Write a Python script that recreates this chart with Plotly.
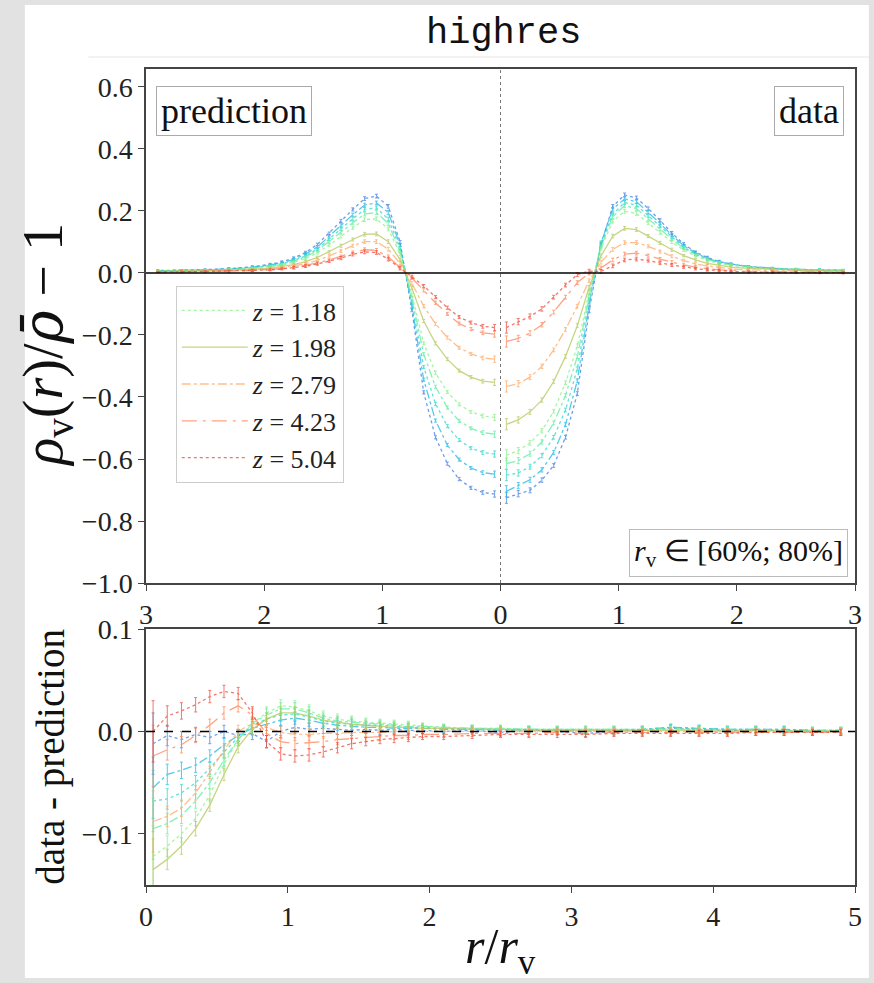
import plotly.graph_objects as go

# ---------------- data ----------------
R_GRID = [0.05, 0.15, 0.25, 0.35, 0.45, 0.55, 0.65, 0.75, 0.85, 0.95,
          1.05, 1.15, 1.25, 1.35, 1.45, 1.55, 1.65, 1.75, 1.85, 1.95,
          2.1, 2.3, 2.5, 2.7, 2.9]
R_RES = R_GRID + [3.1, 3.3, 3.5, 3.7, 3.9, 4.1, 4.3, 4.5, 4.7, 4.9]

Z_LABELS = ["0.05", "0.37", "0.65", "0.92", "1.18", "1.98", "2.79", "4.23", "5.04"]
IN_LEGEND = [False, False, False, False, True, True, True, True, True]
COLORS = ["#3f7fe6", "#1fb8e6", "#2ed8c8", "#5ceea0", "#8cf08a",
          "#b5c85a", "#ffaa66", "#ff8458", "#f04a38"]
DASHES = ["dot", "dashdot", "dot", "dashdot", "dot", "solid", "dashdot", "longdashdot", "dot"]

# prediction profiles rho_v(r)/rho_bar - 1 on R_GRID
PRED = [
    [-0.713, -0.708, -0.693, -0.665, -0.615, -0.530, -0.385, -0.120, 0.100, 0.215,
     0.248, 0.240, 0.205, 0.168, 0.128, 0.092, 0.066, 0.048, 0.036, 0.028,
     0.020, 0.014, 0.011, 0.009, 0.008],
    [-0.649, -0.644, -0.629, -0.602, -0.555, -0.476, -0.344, -0.107, 0.090, 0.195,
     0.226, 0.219, 0.188, 0.154, 0.117, 0.084, 0.061, 0.044, 0.033, 0.026,
     0.019, 0.013, 0.010, 0.008, 0.007],
    [-0.584, -0.579, -0.565, -0.539, -0.494, -0.422, -0.303, -0.094, 0.080, 0.174,
     0.210, 0.205, 0.175, 0.143, 0.108, 0.077, 0.055, 0.041, 0.030, 0.024,
     0.017, 0.012, 0.010, 0.008, 0.007],
    [-0.520, -0.515, -0.501, -0.477, -0.434, -0.367, -0.262, -0.081, 0.069, 0.160,
     0.195, 0.190, 0.162, 0.132, 0.100, 0.072, 0.052, 0.038, 0.028, 0.022,
     0.016, 0.011, 0.009, 0.007, 0.006],
    [-0.466, -0.461, -0.448, -0.424, -0.384, -0.322, -0.227, -0.070, 0.061, 0.142,
     0.175, 0.172, 0.146, 0.118, 0.090, 0.065, 0.047, 0.034, 0.025, 0.020,
     0.014, 0.010, 0.008, 0.007, 0.006],
    [-0.353, -0.349, -0.336, -0.315, -0.278, -0.227, -0.155, -0.048, 0.043, 0.101,
     0.126, 0.125, 0.108, 0.088, 0.068, 0.050, 0.037, 0.027, 0.021, 0.016,
     0.012, 0.009, 0.007, 0.006, 0.005],
    [-0.278, -0.274, -0.261, -0.241, -0.208, -0.164, -0.107, -0.033, 0.031, 0.077,
     0.101, 0.101, 0.088, 0.071, 0.055, 0.041, 0.030, 0.023, 0.017, 0.013,
     0.010, 0.007, 0.006, 0.005, 0.004],
    [-0.197, -0.193, -0.181, -0.163, -0.132, -0.096, -0.056, -0.016, 0.018, 0.052,
     0.073, 0.075, 0.066, 0.053, 0.042, 0.032, 0.024, 0.018, 0.014, 0.011,
     0.008, 0.006, 0.005, 0.004, 0.003],
    [-0.176, -0.172, -0.160, -0.142, -0.112, -0.078, -0.042, -0.012, 0.015, 0.045,
     0.066, 0.068, 0.060, 0.048, 0.038, 0.029, 0.022, 0.017, 0.013, 0.010,
     0.008, 0.006, 0.005, 0.004, 0.003],
]

# data - prediction on R_RES
RESID = [
    [-0.012, -0.004, -0.008, -0.003, -0.006, 0.000, -0.004, -0.002, -0.010, 0.000,
     0.004, 0.002, 0.003, 0.002, 0.001, 0.002, 0.001, 0.002, 0.001, 0.001,
     0.000, 0.001, -0.001, 0.001, 0.000, -0.002, 0.000, 0.001, 0.003, 0.002,
     0.001, 0.001, 0.001, 0.000, 0.000],
    [-0.055, -0.042, -0.038, -0.033, -0.024, -0.013, -0.004, 0.003, 0.007, 0.011,
     0.013, 0.011, 0.008, 0.006, 0.005, 0.004, 0.004, 0.003, 0.003, 0.003,
     0.002, 0.002, 0.001, 0.002, 0.001, 0.000, 0.001, 0.002, 0.004, 0.003,
     0.002, 0.002, 0.002, 0.001, 0.001],
    [-0.068, -0.066, -0.060, -0.050, -0.036, -0.020, -0.006, 0.006, 0.012, 0.016,
     0.017, 0.014, 0.010, 0.008, 0.007, 0.006, 0.006, 0.005, 0.004, 0.004,
     0.003, 0.003, 0.002, 0.002, 0.002, 0.002, 0.002, 0.002, 0.004, 0.003,
     0.002, 0.002, 0.002, 0.001, 0.001],
    [-0.095, -0.090, -0.082, -0.068, -0.050, -0.028, -0.008, 0.008, 0.016, 0.022,
     0.022, 0.018, 0.013, 0.010, 0.009, 0.008, 0.007, 0.006, 0.005, 0.005,
     0.004, 0.003, 0.003, 0.002, 0.002, 0.002, 0.002, 0.002, 0.003, 0.002,
     0.002, 0.002, 0.001, 0.001, 0.001],
    [-0.122, -0.112, -0.100, -0.085, -0.062, -0.032, -0.008, 0.008, 0.018, 0.025,
     0.024, 0.020, 0.015, 0.012, 0.010, 0.009, 0.008, 0.007, 0.006, 0.005,
     0.004, 0.003, 0.003, 0.002, 0.002, 0.002, 0.002, 0.001, 0.002, 0.002,
     0.001, 0.001, 0.001, 0.001, 0.001],
    [-0.135, -0.125, -0.112, -0.095, -0.072, -0.042, -0.015, 0.002, 0.012, 0.018,
     0.018, 0.015, 0.011, 0.009, 0.007, 0.006, 0.005, 0.004, 0.004, 0.003,
     0.003, 0.002, 0.002, 0.001, 0.001, 0.001, 0.001, 0.001, 0.001, 0.001,
     0.000, 0.001, 0.000, 0.000, 0.000],
    [-0.088, -0.083, -0.075, -0.060, -0.040, -0.018, 0.000, 0.008, 0.004, -0.001,
     -0.003, -0.003, -0.002, -0.002, -0.001, -0.001, -0.001, 0.000, 0.000, 0.000,
     0.000, 0.000, 0.000, 0.000, 0.000, 0.000, 0.000, 0.000, 0.000, 0.000,
     0.000, 0.000, 0.000, 0.000, 0.000],
    [-0.024, -0.018, -0.013, -0.004, 0.006, 0.018, 0.025, 0.016, -0.002, -0.010,
     -0.012, -0.011, -0.010, -0.008, -0.007, -0.006, -0.005, -0.004, -0.004, -0.003,
     -0.003, -0.002, -0.002, -0.002, -0.001, -0.002, -0.001, -0.001, -0.001, -0.001,
     -0.001, -0.001, -0.001, -0.001, -0.001],
    [0.000, 0.015, 0.020, 0.026, 0.034, 0.039, 0.037, 0.018, -0.010, -0.022,
     -0.024, -0.023, -0.020, -0.016, -0.012, -0.010, -0.008, -0.007, -0.006, -0.005,
     -0.005, -0.004, -0.003, -0.003, -0.003, -0.003, -0.002, -0.002, -0.002, -0.002,
     -0.002, -0.001, -0.001, -0.001, -0.001],
]

ERR_PRED = [0.010, 0.006, 0.005, 0.005, 0.005, 0.005, 0.005, 0.005, 0.005, 0.006,
            0.006, 0.006, 0.005, 0.005, 0.004, 0.004, 0.004, 0.004, 0.003, 0.003,
            0.003, 0.003, 0.002, 0.002, 0.002]
ERR_DATA = [0.018, 0.010, 0.008, 0.007, 0.006, 0.006, 0.006, 0.006, 0.006, 0.006,
            0.006, 0.006, 0.005, 0.005, 0.005, 0.004, 0.004, 0.004, 0.004, 0.003,
            0.003, 0.003, 0.003, 0.003, 0.003]
ERR_RES = [0.030, 0.010, 0.008, 0.007, 0.006, 0.006, 0.006, 0.006, 0.006, 0.006,
           0.006, 0.006, 0.005, 0.005, 0.005, 0.004, 0.004, 0.004, 0.004, 0.003,
           0.003, 0.003, 0.003, 0.003, 0.003, 0.003, 0.003, 0.003, 0.003, 0.003,
           0.003, 0.003, 0.003, 0.003, 0.003]

TOP_XTICKS = [-3, -2, -1, 0, 1, 2, 3]
TOP_YTICKS = [-1.0, -0.8, -0.6, -0.4, -0.2, 0.0, 0.2, 0.4, 0.6]
BOT_XTICKS = [0, 1, 2, 3, 4, 5]
BOT_YTICKS = [-0.1, 0.0, 0.1]

# ---------------- figure ----------------
W, H = 874, 983
L, R, T, B = 146, 14, 69, 98
PW, PH = W - L - R, H - T - B


def px_x(x):
    return (x - L) / PW


def px_y(y):
    return (H - B - y) / PH


SERIF = "Liberation Serif"
fig = go.Figure()
n = len(R_GRID)

for k in range(len(PRED)):
    col = COLORS[k]
    name = "<i>z</i> = " + Z_LABELS[k]
    grp = "g%d" % k
    line = dict(color=col, width=1.3, dash=DASHES[k])
    # prediction (mirrored to negative x)
    fig.add_trace(go.Scatter(
        x=[-r for r in R_GRID], y=PRED[k], mode="lines", name=name,
        legendgroup=grp, showlegend=IN_LEGEND[k], opacity=0.75, line=line,
        error_y=dict(type="data", array=ERR_PRED, color=col, thickness=1, width=1.5),
        xaxis="x", yaxis="y"))
    # data = prediction + residual
    data_vals = [PRED[k][i] + RESID[k][i] for i in range(n)]
    fig.add_trace(go.Scatter(
        x=R_GRID, y=data_vals, mode="lines", name=name,
        legendgroup=grp, showlegend=False, opacity=0.75, line=line,
        error_y=dict(type="data", array=ERR_DATA, color=col, thickness=1, width=1.5),
        xaxis="x", yaxis="y"))
    # residuals
    fig.add_trace(go.Scatter(
        x=R_RES, y=RESID[k], mode="lines", name=name,
        legendgroup=grp, showlegend=False, opacity=0.75, line=line,
        error_y=dict(type="data", array=ERR_RES, color=col, thickness=1, width=1.5),
        xaxis="x2", yaxis="y2"))


def fmt(v):
    s = "%.1f" % v
    if s.startswith("-"):
        s = "\u2212" + s[1:]
    return s


axis_common = dict(showline=True, mirror=True, linecolor="#444444", linewidth=1.5,
                   ticks="outside", ticklen=6, tickwidth=1.2, tickcolor="#444444",
                   showgrid=False, zeroline=False,
                   tickfont=dict(family=SERIF, size=28, color="#222222"))

top_dom = [px_y(583), 1.0]
bot_dom = [0.0, px_y(629)]

fig.update_layout(
    width=W, height=H,
    margin=dict(l=L, r=R, t=T, b=B),
    paper_bgcolor="#e2e2e2", plot_bgcolor="white",
    xaxis=dict(domain=[0, 1], anchor="y", range=[-3, 3], tickvals=TOP_XTICKS,
               ticktext=[str(abs(v)) for v in TOP_XTICKS], **axis_common),
    yaxis=dict(domain=top_dom, anchor="x", range=[-1.0, 0.658], tickvals=TOP_YTICKS,
               ticktext=[fmt(v) for v in TOP_YTICKS], **axis_common),
    xaxis2=dict(domain=[0, 1], anchor="y2", range=[0, 5], tickvals=BOT_XTICKS,
                ticktext=[str(v) for v in BOT_XTICKS], **axis_common),
    yaxis2=dict(domain=bot_dom, anchor="x2", range=[-0.15, 0.1], tickvals=BOT_YTICKS,
                ticktext=[fmt(v) for v in BOT_YTICKS], **axis_common),
    legend=dict(x=px_x(176), y=px_y(286), xanchor="left", yanchor="top",
                bgcolor="white", bordercolor="#cccccc", borderwidth=1,
                font=dict(family=SERIF, size=26, color="#222222"),
                itemwidth=66, tracegroupgap=2, traceorder="normal"),
    showlegend=True,
)

shapes = [
    # white page area over the gray backdrop
    dict(type="rect", xref="paper", yref="paper", x0=px_x(24), x1=px_x(874),
         y0=px_y(978), y1=px_y(5), fillcolor="white", line=dict(width=0), layer="below"),
    # faint line under the title
    dict(type="line", xref="paper", yref="paper", x0=px_x(88), x1=px_x(874),
         y0=px_y(57), y1=px_y(57), line=dict(color="#e6e6e6", width=1)),
    # horizontal zero line (top)
    dict(type="line", xref="x", yref="y", x0=-3, x1=3, y0=0, y1=0,
         line=dict(color="black", width=1.5)),
    # vertical divider at r=0 (top)
    dict(type="line", xref="x", yref="y domain", x0=0, x1=0, y0=0, y1=1,
         line=dict(color="#777777", width=1, dash="dot")),
    # dashed zero line (bottom)
    dict(type="line", xref="x2", yref="y2", x0=0, x1=5, y0=0, y1=0,
         line=dict(color="black", width=1.5, dash="dash")),
]
fig.update_layout(shapes=shapes)

ann = [
    dict(text="highres", x=px_x(506), y=px_y(33), xref="paper", yref="paper",
         showarrow=False, xanchor="center", yanchor="middle",
         font=dict(family="Liberation Mono", size=37, color="#111111")),
    dict(text="prediction", x=px_x(156), y=px_y(86), xref="paper", yref="paper",
         showarrow=False, xanchor="left", yanchor="top", bgcolor="white",
         bordercolor="#aaaaaa", borderwidth=1, borderpad=4,
         font=dict(family=SERIF, size=36, color="#111111")),
    dict(text="data", x=px_x(849), y=px_y(86), xref="paper", yref="paper",
         showarrow=False, xanchor="right", yanchor="top", bgcolor="white",
         bordercolor="#aaaaaa", borderwidth=1, borderpad=4,
         font=dict(family=SERIF, size=36, color="#111111")),
    dict(text="<i>r</i><sub>v</sub> \u2208 [60%; 80%]", x=px_x(853), y=px_y(577),
         xref="paper", yref="paper", showarrow=False, xanchor="right", yanchor="bottom",
         bgcolor="white", bordercolor="#bbbbbb", borderwidth=1, borderpad=4,
         font=dict(family=SERIF, size=30, color="#111111")),
    dict(text="<i>\u03c1</i><sub>v</sub>(<i>r</i>)/"
              "<span style=\"font-family:'DejaVu Serif'\"><i>\u03c1\u0304</i></span> \u2212 1",
         x=px_x(45), y=px_y(345), xref="paper", yref="paper", showarrow=False,
         textangle=-90, xanchor="center", yanchor="middle",
         font=dict(family=SERIF, size=56, color="#111111")),
    dict(text="data - prediction", x=px_x(50), y=px_y(757), xref="paper", yref="paper",
         showarrow=False, textangle=-90, xanchor="center", yanchor="middle",
         font=dict(family=SERIF, size=39, color="#111111")),
    dict(text="<i>r</i>/<i>r</i><sub>v</sub>", x=px_x(503), y=px_y(950),
         xref="paper", yref="paper", showarrow=False, xanchor="center", yanchor="middle",
         font=dict(family=SERIF, size=50, color="#111111")),
]
fig.update_layout(annotations=ann)

fig.write_html("out.html")
